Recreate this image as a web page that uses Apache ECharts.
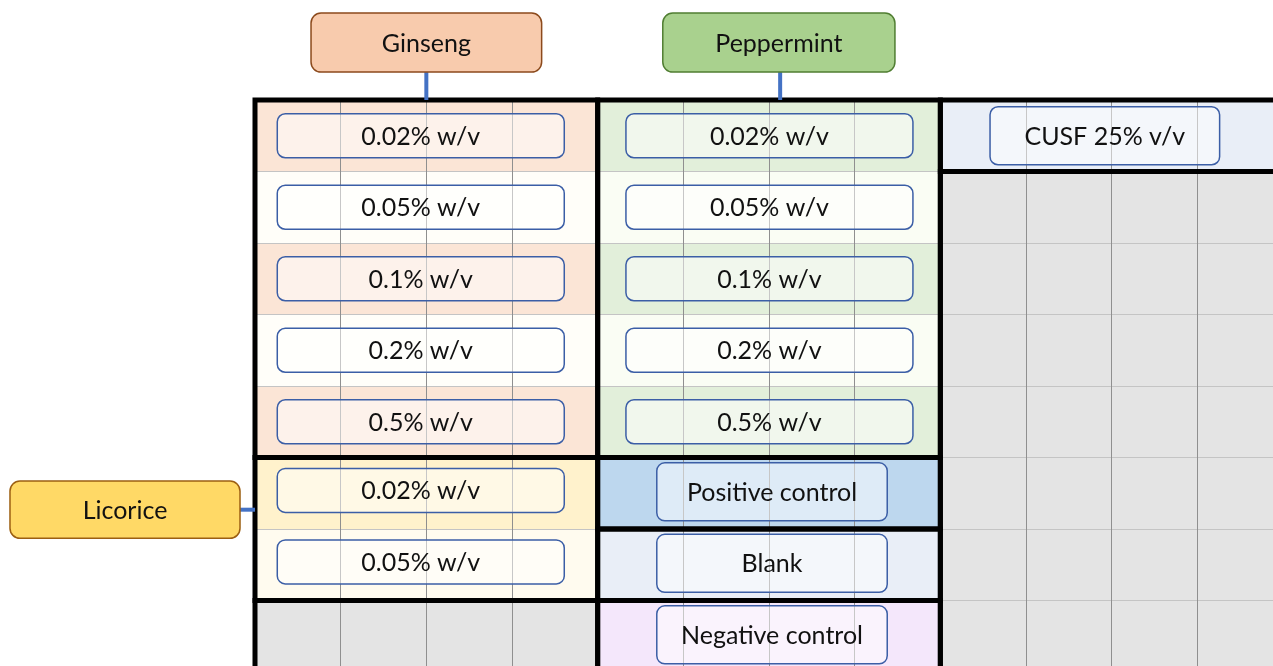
<!DOCTYPE html>
<html>
<head>
<meta charset="utf-8">
<script src="https://cdn.jsdelivr.net/npm/echarts@6/dist/echarts.min.js"></script>
<style>
html,body{margin:0;padding:0;background:#fff;}
#c{width:1273px;height:666px;}
</style>
</head>
<body>
<div id="c"></div>
<script>
// ---- plate layout data ----
const plateColumns = [1,2,3,4,5,6,7,8,9,10,11,12];
const plateRows = ['A','B','C','D','E','F','G','H'];
const groupNames = ['Ginseng', 'Peppermint', 'Licorice'];
const ginsengConc = ['0.02% w/v','0.05% w/v','0.1% w/v','0.2% w/v','0.5% w/v'];
const peppermintConc = ['0.02% w/v','0.05% w/v','0.1% w/v','0.2% w/v','0.5% w/v'];
const licoriceConc = ['0.02% w/v','0.05% w/v'];
const controlLabels = ['Positive control','Blank','Negative control'];
const cusfLabels = ['CUSF 25% v/v'];

// ---- colours (style) ----
const C = {
  ginsengA:'#FBE5D6', ginsengB:'#FFFEF9',
  pepA:'#E2EFDA', pepB:'#FAFDF4',
  licA:'#FFF2CC', licB:'#FFFBEF',
  pos:'#BDD7EE', blank:'#E9EEF7', neg:'#F4E7FB',
  cusf:'#E9EEF7', empty:'#E4E4E4'
};

function cellColor(c, r){
  if (c < 4 && r < 5) return r % 2 === 0 ? C.ginsengA : C.ginsengB;
  if (c >= 4 && c < 8 && r < 5) return r % 2 === 0 ? C.pepA : C.pepB;
  if (c >= 8) return r === 0 ? C.cusf : C.empty;
  if (c < 4) return r === 5 ? C.licA : (r === 6 ? C.licB : C.empty);
  return r === 5 ? C.pos : (r === 6 ? C.blank : C.neg);
}

const cellData = [];
plateRows.forEach((rn, r) => plateColumns.forEach((cn, c) => cellData.push([c, r, cellColor(c, r)])));

// thick block borders: [c0, r0, c1, r1]
const blocks = [[0,0,4,5],[4,0,8,5],[8,0,12,1],[0,5,4,7],[4,5,8,6],[4,6,8,7],[4,7,8,8],[0,7,4,8],[8,1,12,8]];

// label boxes: [x0, x1, rowCenter, height], text
const boxes = [], boxText = [];
ginsengConc.forEach((t, i) => { boxes.push([0.26, 3.61, i + 0.5, 0.615]); boxText.push(t); });
peppermintConc.forEach((t, i) => { boxes.push([4.33, 7.68, i + 0.5, 0.615]); boxText.push(t); });
licoriceConc.forEach((t, i) => { boxes.push([0.26, 3.61, 5 + i + 0.46, 0.615]); boxText.push(t); });
controlLabels.forEach((t, i) => { boxes.push([4.69, 7.38, 5 + i + 0.48, 0.81]); boxText.push(t); });
cusfLabels.forEach((t) => { boxes.push([8.58, 11.26, 0.5, 0.81]); boxText.push(t); });

// group header boxes: [x0, x1, y0, y1, connector x0, y0, x1, y1]
const headers = [
  [0.654, 3.346, -1.217, -0.39, 2.0, -0.39, 2.0, 0],
  [4.76, 7.47, -1.217, -0.39, 6.13, -0.39, 6.13, 0],
  [-2.86, -0.175, 5.33, 6.13, -0.175, 5.73, 0, 5.73]
];
const headerStyle = [
  {fill:'#F8CBAD', stroke:'#8C4A1C'},
  {fill:'#A9D18E', stroke:'#507E32'},
  {fill:'#FFD966', stroke:'#9C5F12'}
];

const FONT = 'Lato, "Open Sans", sans-serif';
const FS = 25;

// visible window of the plate (plate continues past the right and bottom edges)
const visibleCols = 11.883;
const visibleRows = 7.916;

const chart = echarts.init(document.getElementById('c'));
chart.setOption({
  animation: false,
  grid: {left: 255, top: 100, right: 0, bottom: 0},
  xAxis: {type:'value', min:0, max:visibleCols, interval:1, z:3,
    axisLine:{show:false}, axisTick:{show:false}, axisLabel:{show:false},
    splitLine:{show:true, lineStyle:{color:'#8f8f8f', width:1}}},
  yAxis: {type:'value', min:0, max:visibleRows, interval:1, inverse:true, z:3,
    axisLine:{show:false}, axisTick:{show:false}, axisLabel:{show:false},
    splitLine:{show:true, lineStyle:{color:'#c4c4c4', width:1}}},
  series: [
    {
      type:'custom', z:1, silent:true, clip:false,
      data: cellData,
      renderItem(params, api){
        const p0 = api.coord([api.value(0), api.value(1)]);
        const p1 = api.coord([api.value(0) + 1, api.value(1) + 1]);
        return {type:'rect', shape:{x:p0[0], y:p0[1], width:p1[0]-p0[0], height:p1[1]-p0[1]},
          style:{fill: cellData[params.dataIndex][2]}};
      }
    },
    {
      type:'custom', z:5, silent:true, clip:false,
      data: blocks,
      renderItem(params, api){
        const p0 = api.coord([api.value(0), api.value(1)]);
        const p1 = api.coord([api.value(2), api.value(3)]);
        return {type:'rect', shape:{x:p0[0], y:p0[1], width:p1[0]-p0[0], height:p1[1]-p0[1]},
          style:{fill:'none', stroke:'#000', lineWidth:5}};
      }
    },
    {
      type:'custom', z:6, silent:true, clip:false,
      data: boxes,
      renderItem(params, api){
        const x0 = api.value(0), x1 = api.value(1), yc = api.value(2), h = api.value(3);
        const p0 = api.coord([x0, yc - h/2]);
        const p1 = api.coord([x1, yc + h/2]);
        return {type:'group', children:[
          {type:'rect', shape:{x:p0[0], y:p0[1], width:p1[0]-p0[0], height:p1[1]-p0[1], r:8},
            style:{fill:'rgba(255,255,255,0.5)', stroke:'#3B5EA6', lineWidth:1.5}},
          {type:'text', style:{text: boxText[params.dataIndex], x:(p0[0]+p1[0])/2, y:(p0[1]+p1[1])/2 + 1,
            align:'center', verticalAlign:'middle', font: FS + 'px ' + FONT, fill:'#111'}}
        ]};
      }
    },
    {
      type:'custom', z:7, silent:true, clip:false,
      data: headers,
      renderItem(params, api){
        const i = params.dataIndex;
        const p0 = api.coord([api.value(0), api.value(2)]);
        const p1 = api.coord([api.value(1), api.value(3)]);
        const c0 = api.coord([api.value(4), api.value(5)]);
        const c1 = api.coord([api.value(6), api.value(7)]);
        return {type:'group', children:[
          {type:'line', shape:{x1:c0[0], y1:c0[1], x2:c1[0], y2:c1[1]}, style:{stroke:'#4472C4', lineWidth:4}},
          {type:'rect', shape:{x:p0[0], y:p0[1], width:p1[0]-p0[0], height:p1[1]-p0[1], r:10},
            style:{fill:headerStyle[i].fill, stroke:headerStyle[i].stroke, lineWidth:1.5}},
          {type:'text', style:{text: groupNames[i], x:(p0[0]+p1[0])/2, y:(p0[1]+p1[1])/2 + 1,
            align:'center', verticalAlign:'middle', font: FS + 'px ' + FONT, fill:'#111'}}
        ]};
      }
    }
  ]
});
</script>
</body>
</html>
